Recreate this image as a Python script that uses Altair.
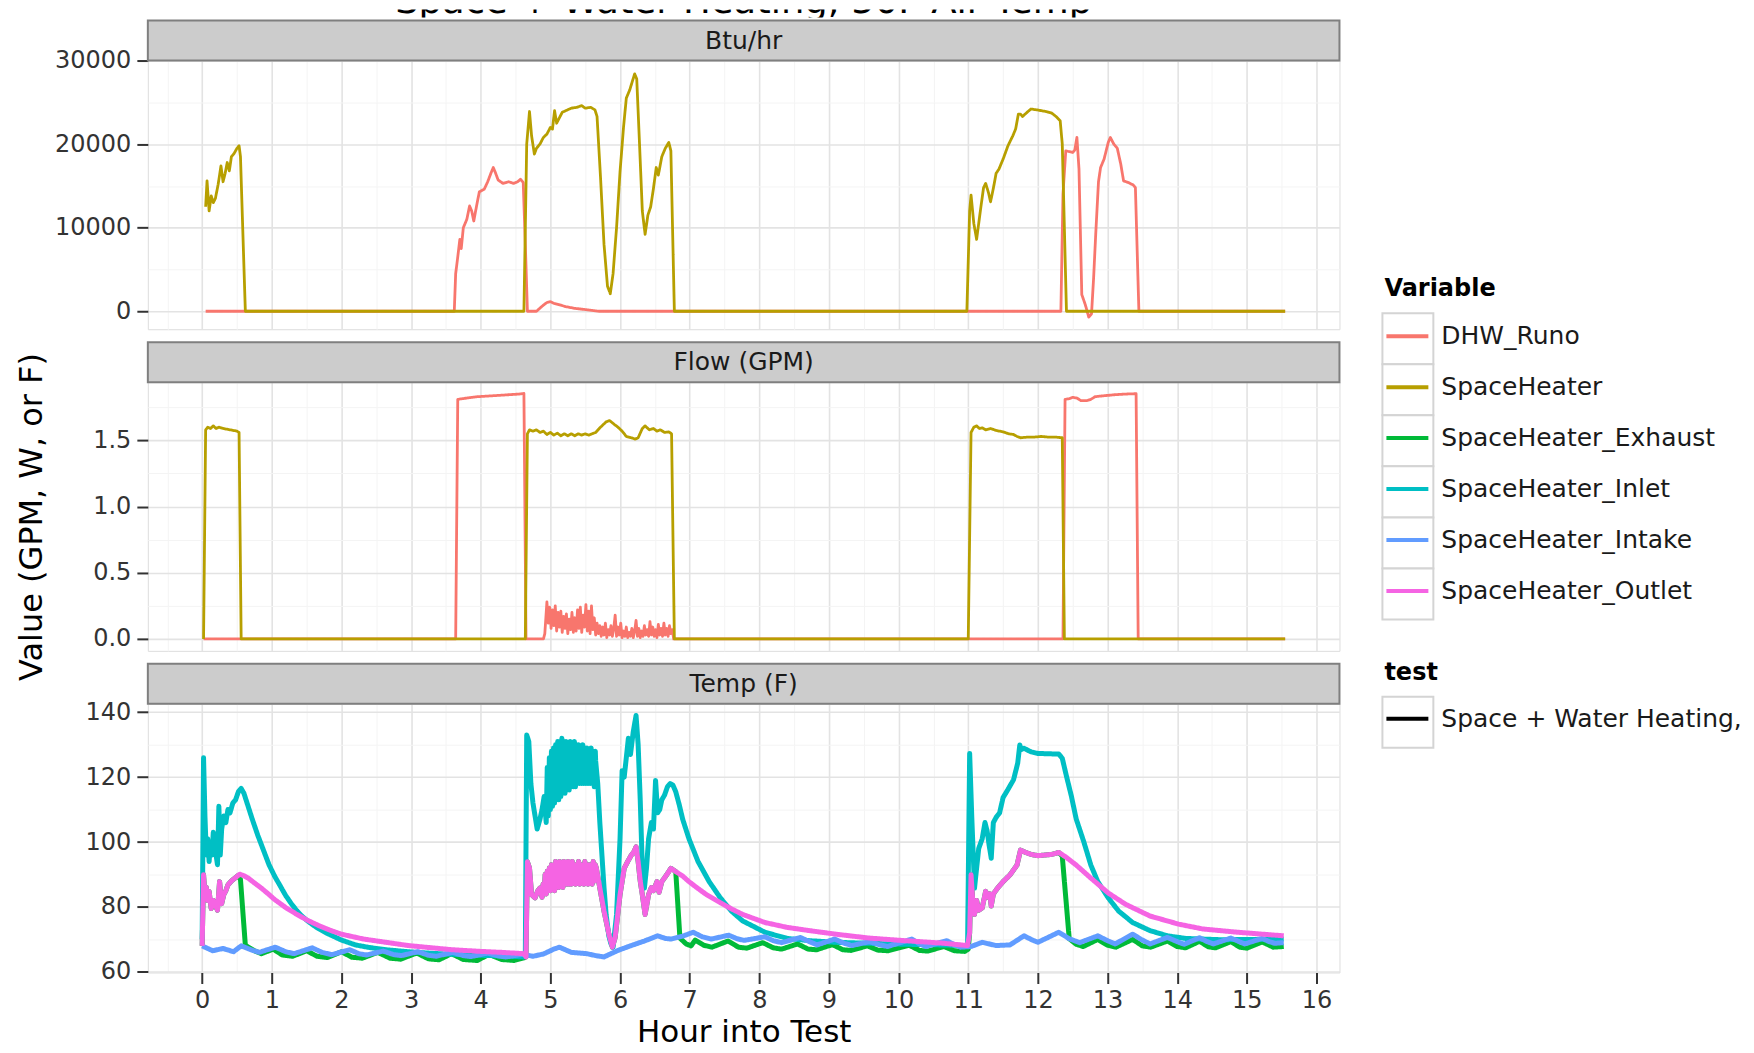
import altair as alt
import pandas as pd

FONT = "DejaVu Sans"
TITLE = "Space + Water Heating, 50F Air Temp"
TEST_NAME = "Space + Water Heating, 50F Air Temp"
VARIABLES = ["DHW_Runo", "SpaceHeater", "SpaceHeater_Exhaust", "SpaceHeater_Inlet",
             "SpaceHeater_Intake", "SpaceHeater_Outlet"]
PALETTE = ["#F8766D", "#B79F00", "#00BA38", "#00BFC4", "#619CFF", "#F564E3"]
PANELS = ["Btu/hr", "Flow (GPM)", "Temp (F)"]

X_TICKS = [-0.5, 0, 0.5, 1, 1.5, 2, 2.5, 3, 3.5, 4, 4.5, 5, 5.5, 6, 6.5, 7, 7.5, 8, 8.5,
           9, 9.5, 10, 10.5, 11, 11.5, 12, 12.5, 13, 13.5, 14, 14.5, 15, 15.5, 16]
Y1_TICKS = [0, 5000, 10000, 15000, 20000, 25000, 30000]
Y2_TICKS = [0, 0.25, 0.5, 0.75, 1.0, 1.25, 1.5, 1.75]
Y3_TICKS = [60, 70, 80, 90, 100, 110, 120, 130, 140]

# ---------------- Btu/hr ----------------
BTU_SPACEHEATER = [
    (0.05, 12500), (0.07, 15600), (0.10, 12000), (0.13, 13800), (0.16, 13000), (0.19, 13500),
    (0.23, 15200), (0.27, 17400), (0.30, 15500), (0.33, 16500), (0.36, 17800), (0.39, 16800),
    (0.42, 18500), (0.46, 18900), (0.50, 19500), (0.53, 19800), (0.55, 18500), (0.62, 0),
    (4.62, 0), (4.66, 20000), (4.70, 23900), (4.73, 21000), (4.77, 18800), (4.80, 19500),
    (4.85, 20000), (4.90, 20800), (4.95, 21200), (5.00, 22000), (5.03, 21800), (5.06, 24000),
    (5.09, 22500), (5.12, 23000), (5.17, 23800), (5.22, 24000), (5.30, 24300), (5.38, 24400),
    (5.45, 24600), (5.50, 24300), (5.58, 24400), (5.64, 24100), (5.67, 23300), (5.72, 16000),
    (5.77, 8000), (5.82, 3000), (5.86, 2100), (5.90, 4500), (5.95, 10000), (6.00, 16700),
    (6.05, 22000), (6.09, 25500), (6.14, 26500), (6.18, 27600), (6.21, 28400), (6.24, 27800),
    (6.28, 20000), (6.32, 12000), (6.36, 9200), (6.40, 11500), (6.44, 12500), (6.48, 14700),
    (6.52, 17200), (6.55, 16300), (6.60, 18500), (6.65, 19500), (6.70, 20200), (6.73, 19200),
    (6.78, 0), (10.98, 0), (11.02, 12000), (11.04, 13900), (11.08, 10500), (11.12, 8600),
    (11.15, 10500), (11.18, 12400), (11.22, 14800), (11.25, 15300), (11.29, 14200),
    (11.32, 13100), (11.36, 14700), (11.40, 16500), (11.44, 17000), (11.50, 18200),
    (11.57, 19800), (11.64, 21000), (11.68, 21800), (11.72, 23600), (11.75, 23600),
    (11.78, 23300), (11.83, 23700), (11.90, 24200), (11.98, 24100), (12.05, 24000),
    (12.12, 23900), (12.20, 23700), (12.26, 23300), (12.32, 22800), (12.35, 20000),
    (12.41, 0), (15.55, 0),
]
BTU_DHW = [
    (0.05, 0), (3.62, 0), (3.64, 4500), (3.67, 6500), (3.70, 8600), (3.72, 7500), (3.75, 10000),
    (3.80, 11000), (3.84, 12600), (3.87, 12000), (3.90, 10800), (3.94, 12600), (3.98, 14300),
    (4.05, 14600), (4.10, 15500), (4.15, 16600), (4.18, 17200), (4.21, 16600), (4.25, 15700),
    (4.32, 15300), (4.40, 15500), (4.47, 15300), (4.53, 15500), (4.57, 15800), (4.61, 15400),
    (4.64, 8000), (4.67, 0), (4.80, 0), (4.88, 600), (4.95, 1050), (5.00, 1150), (5.05, 950),
    (5.12, 800), (5.22, 550), (5.35, 350), (5.50, 200), (5.70, 0), (12.33, 0), (12.36, 14000),
    (12.40, 19200), (12.45, 19100), (12.50, 19000), (12.53, 19300), (12.56, 20800),
    (12.59, 17000), (12.63, 2000), (12.68, 800), (12.73, -700), (12.77, -300), (12.80, 4000),
    (12.83, 9200), (12.87, 15500), (12.90, 17200), (12.95, 18200), (13.01, 20200),
    (13.04, 20800), (13.09, 20000), (13.14, 19500), (13.19, 17600), (13.23, 15600),
    (13.30, 15400), (13.37, 15100), (13.40, 14800), (13.45, 0), (15.55, 0),
]

# ---------------- Flow (GPM) ----------------
FLOW_SPACEHEATER = [
    (0.02, 0), (0.05, 1.58), (0.08, 1.60), (0.12, 1.59), (0.16, 1.61), (0.20, 1.59),
    (0.24, 1.60), (0.30, 1.59), (0.40, 1.58), (0.50, 1.57), (0.53, 1.56), (0.56, 0),
    (4.64, 0), (4.67, 1.55), (4.70, 1.58), (4.75, 1.57), (4.80, 1.58), (4.85, 1.56),
    (4.90, 1.57), (4.95, 1.545), (5.00, 1.56), (5.05, 1.54), (5.10, 1.555), (5.15, 1.535),
    (5.20, 1.55), (5.25, 1.535), (5.30, 1.55), (5.35, 1.535), (5.40, 1.55), (5.45, 1.54),
    (5.50, 1.55), (5.55, 1.54), (5.60, 1.55), (5.65, 1.56), (5.72, 1.60), (5.80, 1.64),
    (5.85, 1.65), (5.92, 1.62), (5.97, 1.60), (6.03, 1.57), (6.09, 1.53), (6.16, 1.52),
    (6.22, 1.51), (6.26, 1.52), (6.32, 1.59), (6.36, 1.61), (6.42, 1.58), (6.48, 1.59),
    (6.53, 1.57), (6.58, 1.58), (6.64, 1.56), (6.70, 1.565), (6.74, 1.55), (6.78, 0),
    (11.00, 0), (11.04, 1.56), (11.08, 1.60), (11.12, 1.61), (11.16, 1.59), (11.20, 1.595),
    (11.25, 1.58), (11.32, 1.59), (11.40, 1.575), (11.50, 1.565), (11.58, 1.55),
    (11.65, 1.545), (11.70, 1.53), (11.75, 1.52), (11.85, 1.525), (11.95, 1.525),
    (12.05, 1.53), (12.15, 1.525), (12.25, 1.525), (12.35, 1.52), (12.38, 0), (15.55, 0),
]
FLOW_DHW = [
    (0.02, 0), (3.64, 0), (3.67, 1.81), (3.80, 1.82), (3.95, 1.83), (4.10, 1.835), (4.25, 1.84),
    (4.40, 1.845), (4.55, 1.85), (4.62, 1.855), (4.65, 0), (4.90, 0),
    (4.92, 0.04), (4.95, 0.28), (4.97, 0.12), (4.99, 0.24), (5.01, 0.08), (5.03, 0.22),
    (5.05, 0.10), (5.07, 0.25), (5.09, 0.06), (5.11, 0.20), (5.13, 0.09), (5.15, 0.21),
    (5.17, 0.05), (5.19, 0.17), (5.21, 0.08), (5.23, 0.19), (5.25, 0.04), (5.27, 0.15),
    (5.29, 0.07), (5.31, 0.20), (5.33, 0.05), (5.35, 0.16), (5.37, 0.06), (5.39, 0.22),
    (5.41, 0.08), (5.43, 0.24), (5.45, 0.05), (5.47, 0.18), (5.49, 0.09), (5.51, 0.26),
    (5.53, 0.06), (5.55, 0.21), (5.57, 0.04), (5.59, 0.25), (5.61, 0.07), (5.63, 0.16),
    (5.65, 0.03), (5.67, 0.12), (5.69, 0.04), (5.71, 0.10), (5.73, 0.02), (5.75, 0.09),
    (5.77, 0.03), (5.79, 0.12), (5.81, 0.01), (5.83, 0.07), (5.85, 0.03), (5.87, 0.10),
    (5.89, 0.02), (5.91, 0.08), (5.93, 0.18), (5.95, 0.02), (5.97, 0.09), (5.99, 0.03),
    (6.01, 0.12), (6.03, 0.01), (6.05, 0.06), (6.07, 0.02), (6.09, 0.09), (6.11, 0.01),
    (6.13, 0.05), (6.15, 0.02), (6.17, 0.08), (6.19, 0.01), (6.21, 0.06), (6.23, 0.14),
    (6.25, 0.02), (6.27, 0.08), (6.29, 0.01), (6.31, 0.06), (6.33, 0.02), (6.35, 0.10),
    (6.37, 0.03), (6.39, 0.07), (6.41, 0.02), (6.43, 0.13), (6.45, 0.03), (6.47, 0.09),
    (6.49, 0.02), (6.51, 0.07), (6.53, 0.01), (6.55, 0.11), (6.57, 0.03), (6.59, 0.08),
    (6.61, 0.02), (6.63, 0.12), (6.65, 0.03), (6.67, 0.08), (6.69, 0.02), (6.71, 0.10),
    (6.73, 0.04), (6.75, 0.07), (6.77, 0.0),
    (12.36, 0), (12.39, 1.81), (12.45, 1.815), (12.50, 1.825), (12.56, 1.82), (12.62, 1.80),
    (12.70, 1.80), (12.76, 1.81), (12.82, 1.83), (12.90, 1.835), (13.00, 1.84), (13.10, 1.845),
    (13.25, 1.85), (13.41, 1.853), (13.44, 0), (15.55, 0),
]

# ---------------- Temp (F) ----------------
INLET_A = [
    (0.00, 70.0), (0.02, 126.0), (0.04, 108.0), (0.06, 96.0), (0.08, 101.0), (0.10, 94.0),
    (0.12, 100.0), (0.14, 96.0), (0.16, 103.0), (0.18, 98.0), (0.20, 96.0), (0.22, 93.0),
    (0.24, 111.0), (0.26, 96.0), (0.28, 104.0), (0.31, 108.0), (0.34, 106.0), (0.37, 110.0),
    (0.40, 109.0), (0.44, 112.0), (0.48, 113.0), (0.52, 115.5), (0.56, 116.5), (0.60, 115.0),
    (0.66, 111.0), (0.72, 107.0), (0.80, 102.0), (0.88, 97.5), (0.96, 93.0), (1.04, 89.5),
    (1.12, 86.5), (1.20, 83.5), (1.28, 81.0), (1.36, 78.8), (1.44, 77.0), (1.52, 75.6),
    (1.60, 74.3), (1.68, 73.2), (1.80, 71.8), (2.00, 69.8), (2.20, 68.3), (2.40, 67.5),
    (2.64, 66.8), (2.96, 66.2), (3.30, 65.7), (3.60, 65.4), (4.00, 65.1), (4.30, 64.9),
    (4.62, 64.6), (4.64, 65.0), (4.66, 133.0), (4.69, 131.0), (4.72, 118.0), (4.75, 112.0),
    (4.78, 108.0), (4.81, 104.0), (4.85, 107.0), (4.88, 110.0), (4.91, 114.0),
]
# (hour, low, high) of the dense oscillation
INLET_BAND = [
    (4.94, 106, 123), (4.97, 108, 126), (5.00, 110, 128), (5.03, 111, 129), (5.06, 112, 130),
    (5.09, 113, 131), (5.12, 113, 131), (5.15, 114, 132), (5.18, 115, 131), (5.21, 115, 131),
    (5.24, 116, 130), (5.27, 116, 131), (5.30, 117, 130), (5.33, 117, 131), (5.36, 117, 130),
    (5.39, 118, 130), (5.42, 118, 129), (5.45, 118, 130), (5.48, 118, 129), (5.51, 118, 129),
    (5.54, 118, 128), (5.57, 118, 129), (5.60, 118, 128), (5.63, 117, 128),
]
INLET_B = [
    (5.65, 125.0), (5.68, 118.0), (5.71, 106.0), (5.74, 96.0), (5.77, 86.0), (5.80, 77.7),
    (5.84, 71.0), (5.87, 68.6), (5.90, 67.6), (5.95, 77.7), (6.00, 101.0), (6.03, 122.0),
    (6.06, 120.0), (6.09, 126.0), (6.12, 132.0), (6.15, 127.0), (6.19, 134.0), (6.23, 139.0),
    (6.26, 130.0), (6.29, 113.0), (6.32, 92.0), (6.35, 85.8), (6.38, 92.0), (6.41, 101.0),
    (6.45, 106.0), (6.48, 104.0), (6.51, 119.0), (6.54, 109.0), (6.57, 110.0), (6.60, 113.0),
    (6.64, 114.5), (6.68, 117.0), (6.72, 118.0), (6.76, 117.5), (6.80, 115.5), (6.85, 111.5),
    (6.90, 107.0), (6.99, 101.0), (7.12, 94.0), (7.28, 87.8), (7.44, 82.8), (7.60, 78.7),
    (7.76, 75.7), (8.08, 72.2), (8.40, 70.3), (8.72, 69.6), (9.10, 69.1), (9.58, 68.8),
    (10.09, 68.5), (10.60, 68.3), (10.99, 68.1), (11.02, 127.3), (11.05, 108.0),
    (11.09, 85.8), (11.12, 92.0), (11.15, 98.0), (11.20, 101.0), (11.24, 106.0),
    (11.27, 103.5), (11.30, 99.0), (11.33, 95.0), (11.36, 106.0), (11.40, 107.6),
    (11.45, 109.0), (11.50, 113.7), (11.57, 116.2), (11.65, 119.2), (11.71, 124.3),
    (11.74, 129.9), (11.76, 128.5), (11.80, 128.9), (11.90, 127.8), (12.00, 127.3),
    (12.15, 127.2), (12.30, 127.1), (12.35, 125.8), (12.41, 120.3), (12.48, 114.2),
    (12.55, 107.1), (12.66, 100.0), (12.76, 92.9), (12.86, 87.8), (13.01, 82.8),
    (13.16, 78.7), (13.36, 75.2), (13.61, 72.7), (13.86, 71.1), (14.12, 70.3),
    (14.62, 69.9), (15.12, 70.0), (15.53, 70.1),
]
OUTLET_A = [
    (0.00, 68.0), (0.02, 89.9), (0.04, 84.0), (0.06, 86.0), (0.08, 82.0), (0.10, 84.8),
    (0.13, 79.5), (0.16, 82.0), (0.19, 80.5), (0.22, 79.0), (0.25, 87.8), (0.28, 81.0),
    (0.31, 83.8), (0.34, 85.0), (0.37, 86.8), (0.42, 88.0), (0.47, 88.9), (0.51, 89.6),
    (0.54, 90.1), (0.60, 89.6), (0.66, 88.9), (0.75, 87.4), (0.85, 85.8), (0.95, 84.0),
    (1.04, 82.3), (1.20, 79.8), (1.36, 77.7), (1.52, 75.8), (1.68, 74.2), (1.84, 72.8),
    (2.00, 71.6), (2.32, 70.1), (2.64, 69.1), (2.96, 68.1), (3.30, 67.4), (3.60, 66.8),
    (4.00, 66.3), (4.30, 66.0), (4.62, 65.6), (4.65, 64.6), (4.67, 93.9), (4.70, 92.0),
    (4.73, 83.8), (4.78, 82.8), (4.82, 85.0), (4.85, 85.8),
]
OUTLET_BAND = [
    (4.88, 83, 87), (4.91, 84, 90), (4.94, 84, 91), (4.97, 85, 92), (5.00, 85, 93),
    (5.03, 86, 92), (5.06, 85, 94), (5.09, 86, 93), (5.12, 86, 94), (5.15, 87, 93),
    (5.18, 86, 94), (5.21, 87, 93), (5.24, 87, 94), (5.27, 87, 93), (5.30, 87, 94),
    (5.33, 88, 93), (5.36, 87, 93), (5.39, 88, 94), (5.42, 87, 93), (5.45, 88, 93),
    (5.48, 87, 94), (5.51, 88, 93), (5.54, 87, 93), (5.57, 88, 93), (5.60, 87, 94),
    (5.63, 88, 93),
]
OUTLET_B = [
    (5.66, 91.9), (5.71, 85.8), (5.77, 78.7), (5.84, 71.6), (5.89, 67.6), (5.93, 70.6),
    (6.00, 83.8), (6.06, 91.9), (6.11, 94.0), (6.16, 95.9), (6.20, 97.0), (6.23, 98.5),
    (6.26, 94.0), (6.29, 88.0), (6.32, 83.8), (6.36, 77.7), (6.41, 83.8), (6.45, 86.0),
    (6.48, 85.0), (6.53, 87.8), (6.56, 84.5), (6.60, 87.8), (6.67, 89.9), (6.73, 91.9),
    (6.80, 90.9), (6.90, 89.5), (6.99, 87.8), (7.10, 86.0), (7.24, 83.8), (7.44, 81.3),
    (7.60, 79.4), (7.76, 77.7), (8.08, 75.2), (8.40, 73.7), (8.72, 72.7), (9.10, 71.6),
    (9.58, 70.4), (10.09, 69.6), (10.60, 68.9), (10.99, 68.1), (11.02, 72.0), (11.04, 89.9),
    (11.07, 80.0), (11.09, 77.7), (11.12, 82.0), (11.15, 79.0), (11.20, 79.7), (11.25, 84.8),
    (11.28, 83.0), (11.31, 84.0), (11.33, 80.3), (11.36, 84.0), (11.42, 85.8), (11.50, 87.8),
    (11.60, 89.9), (11.70, 92.9), (11.75, 97.5), (11.80, 97.0), (11.90, 96.2), (12.00, 95.8),
    (12.10, 96.0), (12.20, 96.2), (12.30, 96.8), (12.40, 95.4), (12.55, 92.9), (12.76, 88.9),
    (13.01, 84.3), (13.26, 80.8), (13.61, 77.2), (14.02, 74.7), (14.37, 73.2), (14.87, 72.2),
    (15.53, 71.1),
]
# Exhaust: its own visible points; during the burns it lies under the Outlet trace
EXHAUST_OWN = [
    (0.55, 88.5), (0.62, 68.2), (0.75, 66.5), (0.85, 65.6), (1.02, 67.0), (1.15, 65.2),
    (1.30, 64.8), (1.50, 66.5), (1.65, 64.8), (1.80, 64.4), (2.00, 66.2), (2.15, 64.5),
    (2.30, 64.2), (2.52, 66.0), (2.70, 64.2), (2.85, 63.9), (3.08, 65.8), (3.25, 64.0),
    (3.40, 63.7), (3.58, 65.6), (3.75, 63.8), (3.95, 63.5), (4.12, 65.4), (4.30, 63.8),
    (4.48, 63.5), (4.62, 64.3), (6.86, 70.4), (6.95, 68.6), (7.02, 68.0), (7.08, 69.8),
    (7.20, 68.2), (7.32, 67.6), (7.55, 69.5), (7.70, 67.6), (7.82, 67.3), (8.05, 69.0),
    (8.20, 67.4), (8.32, 67.0), (8.55, 68.6), (8.70, 67.0), (8.82, 66.8), (9.05, 68.4),
    (9.20, 66.8), (9.32, 66.6), (9.55, 68.0), (9.70, 66.7), (9.85, 66.5), (10.15, 68.2),
    (10.30, 66.6), (10.42, 66.4), (10.65, 67.8), (10.80, 66.5), (10.95, 66.3), (11.00, 67.0),
    (12.35, 95.6), (12.45, 70.2), (12.55, 68.5), (12.65, 67.8), (12.86, 70.0), (13.00, 68.2),
    (13.12, 67.6), (13.36, 70.0), (13.50, 68.0), (13.62, 67.6), (13.86, 69.5), (14.00, 67.8),
    (14.12, 67.4), (14.32, 69.4), (14.45, 67.7), (14.55, 67.4), (14.77, 69.3), (14.90, 67.6),
    (15.00, 67.3), (15.22, 69.2), (15.38, 67.6), (15.53, 67.8),
]
EXHAUST_WITH_OUTLET = [(0.0, 0.51), (4.65, 6.80), (11.02, 12.30)]
INTAKE = [
    (0.00, 68.0), (0.08, 67.2), (0.15, 66.5), (0.30, 67.2), (0.45, 66.2), (0.56, 68.0),
    (0.70, 66.8), (0.82, 66.0), (1.05, 67.6), (1.20, 66.2), (1.32, 65.6), (1.58, 67.4),
    (1.72, 66.0), (1.86, 65.3), (2.12, 66.8), (2.25, 65.6), (2.36, 65.2), (2.60, 66.4),
    (2.75, 65.3), (2.86, 65.0), (3.10, 66.2), (3.25, 65.1), (3.36, 64.8), (3.60, 66.0),
    (3.75, 65.0), (3.86, 64.7), (4.10, 65.8), (4.25, 64.9), (4.36, 64.6), (4.60, 65.4),
    (4.75, 64.8), (4.90, 65.5), (5.05, 67.0), (5.13, 67.6), (5.30, 66.0), (5.52, 65.6),
    (5.65, 65.0), (5.77, 64.6), (5.97, 66.6), (6.16, 68.1), (6.35, 69.5), (6.54, 71.1),
    (6.65, 70.3), (6.73, 70.1), (6.90, 71.0), (7.05, 72.2), (7.18, 70.8), (7.31, 70.1),
    (7.56, 71.3), (7.68, 70.2), (7.78, 69.7), (8.08, 70.8), (8.20, 69.6), (8.32, 69.0),
    (8.59, 70.6), (8.72, 69.3), (8.83, 68.3), (9.08, 70.1), (9.22, 68.8), (9.33, 68.1),
    (9.58, 69.3), (9.72, 68.4), (9.84, 67.8), (10.19, 70.1), (10.30, 68.6), (10.39, 67.8),
    (10.69, 69.6), (10.80, 68.4), (10.89, 67.6), (11.04, 67.8), (11.20, 69.1), (11.40, 68.1),
    (11.60, 68.3), (11.80, 71.1), (11.92, 69.8), (12.00, 69.1), (12.30, 72.2), (12.45, 70.2),
    (12.60, 69.0), (12.86, 71.1), (13.00, 69.6), (13.11, 68.6), (13.36, 71.6), (13.50, 69.8),
    (13.61, 68.6), (13.86, 70.6), (14.00, 69.3), (14.10, 68.5), (14.32, 70.5), (14.42, 69.4),
    (14.52, 68.6), (14.77, 70.4), (14.88, 69.4), (14.97, 68.6), (15.22, 70.3), (15.32, 69.3),
    (15.40, 68.8), (15.53, 69.0),
]


# ---------------- build tables ----------------
def series_df(points, var):
    return pd.DataFrame({"hour": [p[0] for p in points], "value": [p[1] for p in points],
                         "Variable": var, "test": TEST_NAME})


def band_points(band):
    pts = []
    for t, lo, hi in band:
        pts.append((t, lo))
        pts.append((round(t + 0.015, 3), hi))
    return pts


inlet_pts = INLET_A + band_points(INLET_BAND) + INLET_B
outlet_pts = OUTLET_A + band_points(OUTLET_BAND) + OUTLET_B
exhaust_pts = sorted(EXHAUST_OWN + [p for p in outlet_pts
                                    if any(a <= p[0] <= b for a, b in EXHAUST_WITH_OUTLET)])

# ---------------- styling / layout ----------------
W = 1193
PH = 269
STRIP_H = 40
GAP = 13
BAND_H = 8
X_DOMAIN = [-0.78, 16.33]
MAJOR = "#e3e3e3"
MINOR = "#f4f4f4"
TEXT_COL = "#333333"

LEG_X = 1236          # legend column, relative to the panels' left edge
KEY_W = 51
KEY_H = 51.1
KEY_TOP = 301         # top of first key box, relative to the top of the title band
TEST_KEY_TOP = 685


def cond(test, minor_val, major_val):
    return {"condition": {"test": test, "value": minor_val}, "value": major_val}


COLOR_LEGEND = alt.Legend(
    title="Variable", orient="none", legendX=LEG_X + 2, legendY=268,
    symbolType="stroke", symbolSize=1764, symbolStrokeWidth=4,
    labelFont=FONT, labelFontSize=25, labelColor="#1a1a1a", labelLimit=500, labelOffset=11,
    titleFont=FONT, titleFontSize=24, titleFontWeight="bold", titleColor="#000000",
    titlePadding=12, rowPadding=15,
)
TEST_LEGEND = alt.Legend(
    title="test", orient="none", legendX=LEG_X + 2, legendY=652,
    symbolType="stroke", symbolSize=1764, symbolStrokeWidth=4, symbolStrokeColor="#000000",
    labelFont=FONT, labelFontSize=25, labelColor="#1a1a1a", labelLimit=500, labelOffset=11,
    labelExpr="substring(datum.label, 0, 22)",
    titleFont=FONT, titleFontSize=24, titleFontWeight="bold", titleColor="#000000",
    titlePadding=11,
)


def x_axis(show):
    kw = dict(values=X_TICKS, grid=True, domain=False, labelFlush=False, labelOverlap=False,
              gridColor=cond("datum.value % 1 !== 0", MINOR, MAJOR),
              gridWidth=cond("datum.value % 1 !== 0", 1.0, 1.6))
    if show:
        kw.update(labels=True, ticks=True, tickSize=11, tickWidth=2,
                  tickColor=cond("datum.value % 1 !== 0", "transparent", TEXT_COL),
                  labelExpr="datum.value % 1 === 0 ? format(datum.value, 'd') : ''",
                  labelFont=FONT, labelFontSize=24, labelColor=TEXT_COL, labelPadding=5,
                  title="Hour into Test", titleFont=FONT, titleFontSize=31,
                  titleFontWeight="normal", titleColor="#000000", titlePadding=5)
    else:
        kw.update(labels=False, ticks=False, title=None)
    return alt.Axis(**kw)


def y_axis(ticks, minor_test, label_expr, title):
    kw = dict(values=ticks, grid=True, domain=False, labelFlush=False, labelOverlap=False,
              gridColor=cond(minor_test, MINOR, MAJOR),
              gridWidth=cond(minor_test, 1.0, 1.6),
              ticks=True, tickSize=11, tickWidth=2,
              tickColor=cond(minor_test, "transparent", TEXT_COL),
              labelExpr=label_expr, labelFont=FONT, labelFontSize=24, labelColor=TEXT_COL,
              labelPadding=6)
    if title:
        kw.update(title=title, titleX=-116, titleBaseline="middle", titleFont=FONT,
                  titleFontSize=32, titleFontWeight="normal", titleColor="#000000")
    else:
        kw.update(title=None)
    return alt.Axis(**kw)


def key_boxes():
    """White, grey-edged key boxes behind the legend symbols (drawn in the first panel)."""
    one = pd.DataFrame({"k": [0]})
    top0 = KEY_TOP - BAND_H - STRIP_H
    tops = [top0 + i * KEY_H for i in range(len(VARIABLES))] + [TEST_KEY_TOP - BAND_H - STRIP_H]
    boxes = []
    for t in tops:
        boxes.append(
            alt.Chart(one).mark_rect(fill="#ffffff", stroke="#d4d4d4", strokeWidth=2).encode(
                x=alt.value(LEG_X), x2=alt.value(LEG_X + KEY_W),
                y=alt.value(t), y2=alt.value(t + KEY_H))
        )
    return boxes


def panel(series, y_domain, yaxis, show_x, stroke_w, strip_label, extra=()):
    strip_df = pd.DataFrame({"label": [strip_label]})
    strip_rect = alt.Chart(strip_df).mark_rect(
        fill="#cccccc", stroke="#7f7f7f", strokeWidth=2
    ).encode(x=alt.value(0), x2=alt.value(W), y=alt.value(-STRIP_H), y2=alt.value(0))
    strip_text = alt.Chart(strip_df).mark_text(
        font=FONT, fontSize=25, color="#1a1a1a", align="center", baseline="middle"
    ).encode(x=alt.value(W / 2), y=alt.value(-STRIP_H / 2), text="label:N")
    layers = [strip_rect, strip_text] + list(extra)
    for points, var in series:
        layers.append(
            alt.Chart(series_df(points, var)).mark_line(
                strokeWidth=stroke_w, clip=True, strokeJoin="round"
            ).encode(
                x=alt.X("hour:Q", scale=alt.Scale(domain=X_DOMAIN, nice=False, zero=False),
                        axis=x_axis(show_x)),
                y=alt.Y("value:Q", scale=alt.Scale(domain=y_domain, nice=False, zero=False),
                        axis=yaxis),
                color=alt.Color("Variable:N", scale=alt.Scale(domain=VARIABLES, range=PALETTE),
                                legend=COLOR_LEGEND),
                strokeDash=alt.StrokeDash("test:N",
                                          scale=alt.Scale(domain=[TEST_NAME], range=[[1, 0]]),
                                          legend=TEST_LEGEND),
            )
        )
    return alt.layer(*layers).properties(width=W, height=PH)


p1 = panel([(BTU_DHW, "DHW_Runo"), (BTU_SPACEHEATER, "SpaceHeater")],
           [-2150, 30000],
           y_axis(Y1_TICKS, "datum.value % 10000 !== 0",
                  "datum.value % 10000 === 0 ? format(datum.value, 'd') : ''", ""),
           False, 2.8, PANELS[0], extra=key_boxes())
p2 = panel([(FLOW_DHW, "DHW_Runo"), (FLOW_SPACEHEATER, "SpaceHeater")],
           [-0.09, 1.94],
           y_axis(Y2_TICKS, "(datum.value * 4) % 2 !== 0",
                  "(datum.value * 4) % 2 === 0 ? format(datum.value, '.1f') : ''",
                  "Value (GPM, W, or F)"),
           False, 2.8, PANELS[1])
p3 = panel([(exhaust_pts, "SpaceHeater_Exhaust"), (inlet_pts, "SpaceHeater_Inlet"),
            (INTAKE, "SpaceHeater_Intake"), (outlet_pts, "SpaceHeater_Outlet")],
           [59.8, 142.6],
           y_axis(Y3_TICKS, "datum.value % 20 !== 0",
                  "datum.value % 20 === 0 ? format(datum.value, 'd') : ''", ""),
           True, 5.0, PANELS[2])

band = alt.Chart(pd.DataFrame({"title": [TITLE]})).mark_text(
    font=FONT, fontSize=37, color="#000000", align="center", baseline="alphabetic", clip=True
).encode(x=alt.value(W / 2), y=alt.value(3), text="title:N").properties(
    width=W, height=BAND_H, view=alt.ViewBackground(stroke="transparent", fill="transparent")
)

panels = alt.vconcat(p1, p2, p3, spacing=STRIP_H + GAP, bounds="flush")

chart = alt.vconcat(
    band,
    panels,
    spacing=0,
).properties(
    padding={"left": 7, "top": 0, "right": 4, "bottom": 0}
).configure_view(
    stroke="#7f7f7f", strokeWidth=2
).configure(font=FONT)

chart.save("out.html", embed_options={"renderer": "svg", "actions": False})
